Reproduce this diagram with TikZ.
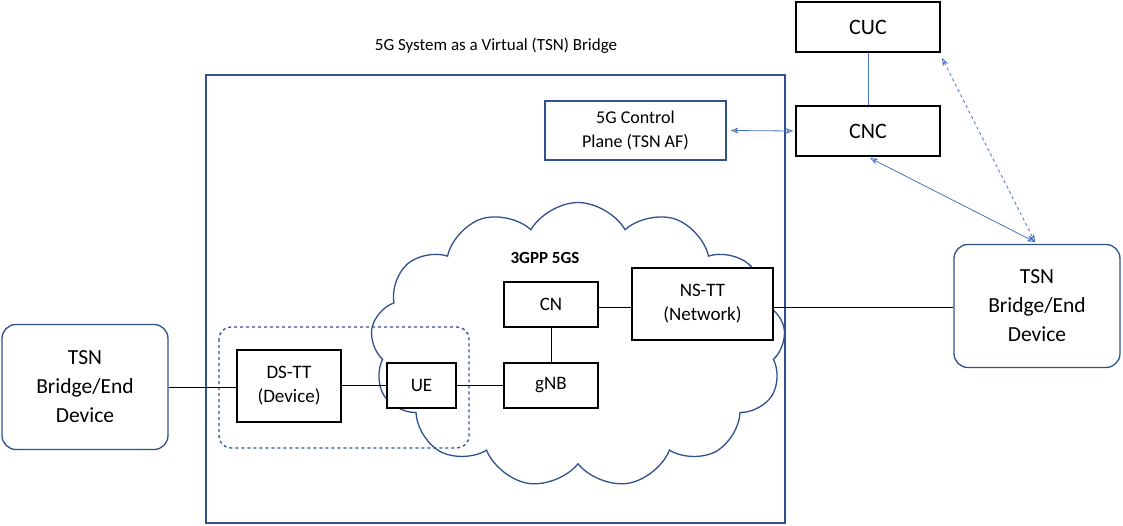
\documentclass[tikz,border=0pt]{standalone}
\usepackage{fontspec}
\setmainfont{Carlito}
\usetikzlibrary{shapes.symbols,arrows.meta,calc}
\definecolor{bord}{HTML}{2F528F}
\definecolor{arr}{HTML}{4472C4}
\begin{document}
\begin{tikzpicture}[x=1pt,y=-1pt,
 bx/.style={draw=black,fill=white,line width=1.3pt,inner sep=0pt,align=center,font=\fontsize{19}{24}\selectfont},
 rbox/.style={draw=bord,fill=white,line width=1.3pt,rounded corners=14pt,align=center,inner sep=0pt,font=\fontsize{21.5}{29}\selectfont},
 ln/.style={line width=0.7pt},
 ar/.style={draw=arr,line width=0.8pt,{Stealth[length=8pt,width=6pt,open]}-{Stealth[length=8pt,width=6pt,open]}}]
\useasboundingbox (0,0) rectangle (1123,525);
\node[font=\fontsize{17}{20}\selectfont] (title) at (496,46) {5G System as a Virtual (TSN) Bridge};
\draw[bord,line width=1.3pt] (206,75) rectangle (785,523);
\node[cloud,cloud puffs=13,cloud puff arc=120,aspect=1.5,draw=bord,fill=white,line width=1.3pt,minimum width=415pt,minimum height=285pt] (cloud) at (578,345) {};
\node[font=\bfseries\fontsize{17}{20}\selectfont] (lab) at (545,258) {3GPP 5GS};
\node[rbox,minimum width=166pt,minimum height=125pt] (tsnL) at (85,387) {TSN\\Bridge/End\\Device};
\node[rbox,minimum width=166pt,minimum height=123pt] (tsnR) at (1037,306) {TSN\\Bridge/End\\Device};
\node[bx,minimum width=144pt,minimum height=50pt,font=\fontsize{22}{26}\selectfont] (cuc) at (868,27) {CUC};
\node[bx,minimum width=144pt,minimum height=50pt,font=\fontsize{22}{26}\selectfont] (cnc) at (868,131) {CNC};
\node[bx,draw=bord,minimum width=181pt,minimum height=59pt,font=\fontsize{18}{24}\selectfont] (cp) at (635.5,130.5) {5G Control\\Plane (TSN AF)};
\draw[bord,line width=1.3pt,dashed,rounded corners=12pt] (219,327) rectangle (469,448);
\node[bx,minimum width=94pt,minimum height=45pt] (cn) at (551,304.5) {CN};
\node[bx,minimum width=94pt,minimum height=45pt] (gnb) at (551,385.5) {gNB};
\node[bx,minimum width=141pt,minimum height=72pt] (ns) at (702.5,304) {NS-TT\\(Network)};
\node[bx,minimum width=69pt,minimum height=45pt] (ue) at (421.5,385.5) {UE};
\node[bx,minimum width=104pt,minimum height=72pt] (ds) at (289,386) {DS-TT\\(Device)};
\draw[ln] (tsnL.east |- 0,387) -- (ds.west |- 0,387);
\draw[ln] (ds.east |- 0,385) -- (ue.west |- 0,385);
\draw[ln] (ue) -- (gnb);
\draw[ln] (cn) -- (gnb);
\draw[ln] (cn.east |- 0,307) -- (ns.west |- 0,307);
\draw[ln] (ns.east |- 0,307) -- (tsnR.west |- 0,307);
\draw[arr,line width=0.8pt] (cuc) -- (cnc);
\draw[ar] ($(cp.east)+(4,0)$) -- ($(cnc.west)+(-2,0)$);
\coordinate (t1) at (1035,242);
\coordinate (c1) at (870,158);
\coordinate (c2) at (942,58);
\draw[ar] (c1) -- (t1);
\draw[ar,dashed] (c2) -- (t1);
\end{tikzpicture}
\end{document}
